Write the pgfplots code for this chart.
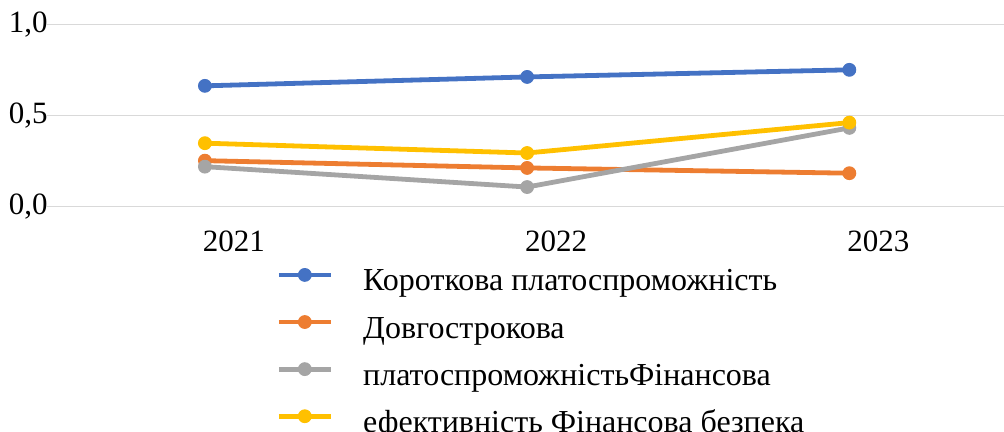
\documentclass[border=0pt]{standalone}
\usepackage{fontspec}
\setmainfont{Liberation Serif}
\usepackage{pgfplots}
\pgfplotsset{compat=1.18}
\definecolor{cblue}{HTML}{4472C4}
\definecolor{corange}{HTML}{ED7D31}
\definecolor{cgray}{HTML}{A5A5A5}
\definecolor{cyellow}{HTML}{FFC000}
\definecolor{cgrid}{HTML}{D9D9D9}
\begin{document}
\begin{tikzpicture}
\useasboundingbox (-23.5pt,-112.65pt) rectangle (478.5pt,103.35pt);
\begin{axis}[
  at={(0,0)}, anchor=south west, scale only axis,
  width=478.5pt, height=91pt,
  xmin=-0.49, xmax=2.48, ymin=0, ymax=1,
  axis line style={draw=none},
  ymajorgrids, grid style={color=cgrid, line width=0.6pt},
  xtick={0,1,2}, xticklabels={2021,2022,2023},
  ytick={0,0.5,1}, yticklabels={{0,0},{0,5},{1,0}},
  major tick length=0pt,
  tick label style={font=\rmfamily\fontsize{15.5}{18}\selectfont},
  xticklabel style={anchor=north, inner sep=0pt, xshift=14.5pt, yshift=-12pt},
  yticklabel style={anchor=east, inner sep=0pt, xshift=0.5pt},
  clip=false,
  legend style={at={(0.2393,-0.3375)}, anchor=north west, draw=none, fill=none,
    inner sep=0pt, font=\rmfamily\fontsize{16}{18}\selectfont,
    nodes={inner sep=0pt, text height=10pt, text depth=3pt},
    row sep=9.35pt, /tikz/column 1/.style={column sep=15pt}},
  legend cell align=left,
  legend image code/.code={\draw[yshift=4.5pt,mark repeat=2,mark phase=2,#1] plot coordinates {(0pt,0pt)(13pt,0pt)(26pt,0pt)};},
  every axis plot/.append style={line width=2.4pt, mark=*, mark size=3.2pt, mark options={solid, line width=0.5pt}},
]
\addplot[cblue] coordinates {(0,0.664) (1,0.713) (2,0.752)};
\addlegendentry{Короткова платоспроможність}
\addplot[corange] coordinates {(0,0.253) (1,0.213) (2,0.184)};
\addlegendentry{Довгострокова}
\addplot[cgray] coordinates {(0,0.220) (1,0.108) (2,0.433)};
\addlegendentry{платоспроможністьФінансова}
\addplot[cyellow] coordinates {(0,0.349) (1,0.295) (2,0.462)};
\addlegendentry{ефективність Фінансова безпека}
\end{axis}
\end{tikzpicture}
\end{document}
